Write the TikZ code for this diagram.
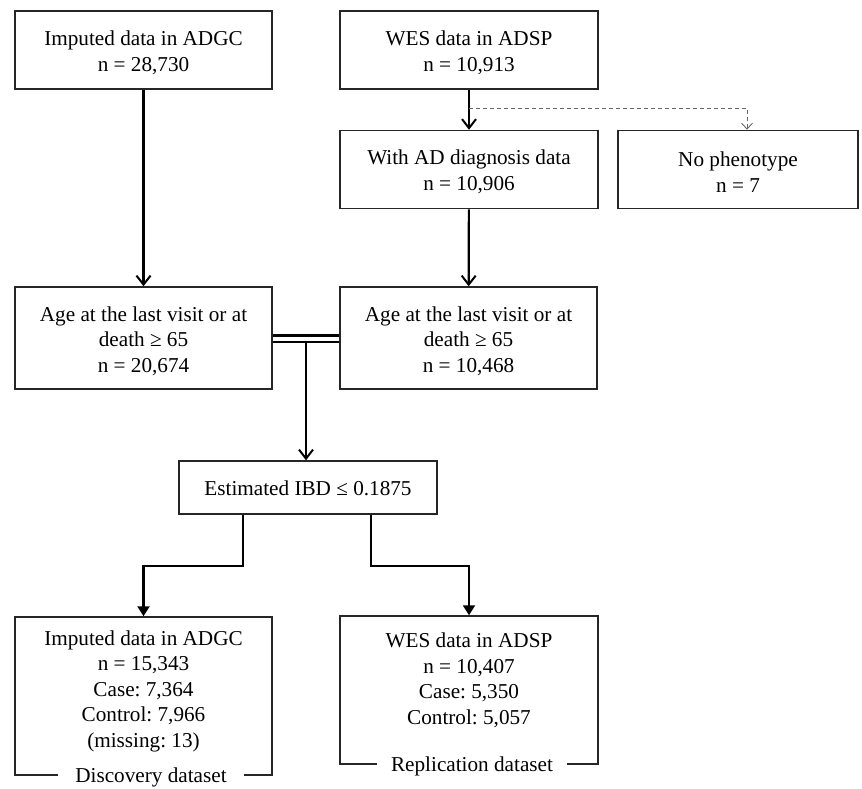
\documentclass[tikz,border=0pt]{standalone}
\usepackage{fontspec}
\setmainfont{Liberation Serif}
\usetikzlibrary{arrows.meta}
\newcommand\boxfont{\fontsize{21.2}{25.5}\selectfont\frenchspacing}
\begin{document}
\begin{tikzpicture}[x=1pt,y=-1pt,
  box/.style={draw=black!85,line width=1.5pt,rectangle,inner sep=0pt},
  txt/.style={inner sep=0pt,align=center,font=\boxfont},
  lab/.style={fill=white,inner ysep=2pt,font=\boxfont},
  conn/.style={line width=2.2pt,-{Straight Barb[length=9pt,width=14pt,line width=2pt]}},
  connb/.style={line width=2.2pt,-{Triangle[length=10pt,width=12pt]}},
  dsh/.style={draw=black!60,line width=1pt,dash pattern=on 4pt off 3pt,-{Straight Barb[length=6pt,width=11pt,line width=0.9pt]}}]
\useasboundingbox (0,0) rectangle (862,788);

% frames
\node[box,minimum width=257pt,minimum height=78pt] (b1) at (143.5,50) {};
\node[box,minimum width=258pt,minimum height=78pt] (b2) at (469,50) {};
\node[box,minimum width=258pt,minimum height=78pt] (b3) at (469,169.5) {};
\node[box,minimum width=240pt,minimum height=78pt] (b4) at (738,169.5) {};
\node[box,minimum width=257pt,minimum height=102pt] (b5) at (143.5,338) {};
\node[box,minimum width=257pt,minimum height=102pt] (b6) at (468.5,338) {};
\node[box,minimum width=258pt,minimum height=53pt] (ibd) at (308,487.5) {};
\node[box,minimum width=257pt,minimum height=158pt] (b7) at (143.5,696) {};
\node[box,minimum width=258pt,minimum height=148pt] (b8) at (469,690) {};

% texts
\node[txt] (t1) at (143.5,53) {Imputed data in ADGC\\n = 28,730};
\node[txt] (t2) at (469,53) {WES data in ADSP\\n = 10,913};
\node[txt] (t3) at (469,172) {With AD diagnosis data\\n = 10,906};
\node[txt] (t4) at (738,172) {No phenotype\\n = 7};
\node[txt] (t5) at (143.5,341) {Age at the last visit or at\\death ≥ 65\\n = 20,674};
\node[txt] (t6) at (468.5,341) {Age at the last visit or at\\death ≥ 65\\n = 10,468};
\node[txt] (ti) at (308,488) {Estimated IBD ≤ 0.1875};
\node[txt] (t7) at (143.5,691) {Imputed data in ADGC\\n = 15,343\\Case: 7,364\\Control: 7,966\\(missing: 13)};
\node[txt] (t8) at (469,680.5) {WES data in ADSP\\n = 10,407\\Case: 5,350\\Control: 5,057};
\node[lab,inner xsep=17pt] (l7) at (151,777) {Discovery dataset};
\node[lab,inner xsep=14.5pt] (l8) at (472,766) {Replication dataset};

% connectors
\draw[conn] (b1) -- (b5);
\draw[conn] (b2) -- (b3);
\draw[conn] (b3) -- (b6);

\coordinate (d0) at (469,108);
\coordinate (d1) at (747,108);
\draw[dsh] (d0) -- (d1) -- (d1 |- b4.north);

\draw[line width=3pt] (b5.east |- 0,335) -- (b6.west |- 0,335);
\draw[line width=2pt] (b5.east |- 0,342) -- (b6.west |- 0,342);
\coordinate (j0) at (306,342);
\draw[conn] (j0) -- (j0 |- ibd.north);

\coordinate (l0) at (243,566);
\coordinate (r0) at (371,566);
\draw[connb] (l0 |- ibd.south) -- (l0) -- (b7.north |- l0) -- (b7.north);
\draw[connb] (r0 |- ibd.south) -- (r0) -- (b8.north |- r0) -- (b8.north);
\end{tikzpicture}
\end{document}
